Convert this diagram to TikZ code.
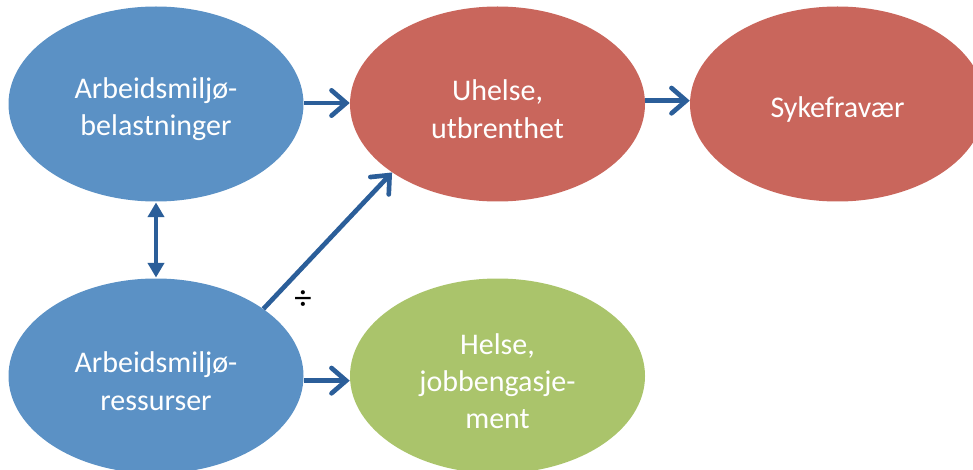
\documentclass[tikz,border=0pt]{standalone}
\usepackage{fontspec}
\setmainfont{Carlito}
\usetikzlibrary{arrows.meta,shapes.geometric}
\definecolor{ebl}{HTML}{5B91C5}
\definecolor{ered}{HTML}{C9665C}
\definecolor{egr}{HTML}{AAC46B}
\definecolor{arr}{HTML}{2B5E99}
\tikzset{
  bub/.style={ellipse, minimum width=221.25pt, minimum height=146.25pt, inner sep=0pt},
  lbl/.style={text=white, align=center, font=\fontsize{22.5pt}{28pt}\selectfont, yshift=-3.8pt, inner sep=0pt},
  conn/.style={draw=arr, line width=3.5pt, -{Straight Barb[length=11pt,width=19pt,line width=3.5pt,line cap=round]}},
  dbl/.style={draw=arr, line width=3pt, {Triangle[length=11pt,width=12pt]}-{Triangle[length=11pt,width=12pt]}, shorten <=0.5pt, shorten >=0.5pt}
}
\begin{document}
\begin{tikzpicture}[x=0.75pt,y=-0.75pt]
\useasboundingbox (0,0) rectangle (973,470);
\clip (0,0) rectangle (973,470);
\node[bub, fill=ebl, label={[lbl]center:Arbeidsmiljø-\\belastninger}] (tl) at (156,104) {};
\node[bub, fill=ered, label={[lbl]center:Uhelse,\\utbrenthet}] (mid) at (497.5,104) {};
\node[bub, fill=ered, label={[lbl]center:Sykefravær}] (syk) at (837.5,104) {};
\node[bub, fill=ebl, label={[lbl]center:Arbeidsmiljø-\\ressurser}] (bl) at (156,376) {};
\node[bub, fill=egr, label={[lbl]center:Helse,\\jobbengasje-\\ment}] (gr) at (497.5,376) {};
\draw[conn] ([yshift=0.75pt]tl.east) -- ([yshift=0.75pt]mid.west);
\draw[conn] ([yshift=2.5pt]mid.east) -- ([yshift=2.5pt]syk.west);
\draw[conn] ([yshift=-3.5pt]bl.east) -- ([yshift=-3.5pt]gr.west);
\draw[conn] (bl.32) -- (mid.213);
\draw[dbl] (tl.south) -- (bl.north);
\node[font=\fontsize{26pt}{28pt}\selectfont] (div) at (303,300) {÷};
\end{tikzpicture}
\end{document}
